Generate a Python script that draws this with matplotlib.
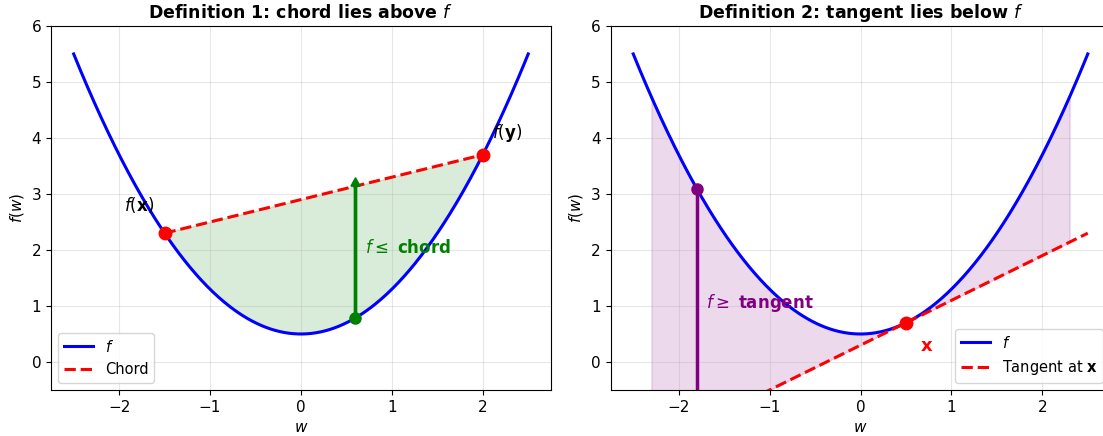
import numpy as np
import matplotlib
matplotlib.use("Agg")
import matplotlib.pyplot as plt

# f(w) = a*w^2 + c
a = 0.8
c = 0.5
w_range = [-2.5, 2.5]

# chord endpoints and probe point (definition 1)
x_pt = -1.5
y_pt = 2.0
probe = 0.6

# tangent point and probe point (definition 2)
x_tan = 0.5
probe2 = -1.8
shade2 = [-2.3, 2.3]


def f(w):
    return a * w**2 + c


def df(w):
    return 2 * a * w


w = np.linspace(w_range[0], w_range[1], 400)

fig = plt.figure(figsize=(11.03, 4.36), dpi=100)
ax1 = fig.add_axes([0.0462, 0.1055, 0.4533, 0.835])
ax2 = fig.add_axes([0.5535, 0.1055, 0.4533, 0.835])

# --- Definition 1 ---
ax1.plot(w, f(w), color='blue', lw=2.2, label=r'$f$')
chord_w = np.array([x_pt, y_pt])
ax1.plot(chord_w, f(chord_w), 'r--', lw=2.2, label='Chord')
ws = np.linspace(x_pt, y_pt, 200)
chord = f(x_pt) + (f(y_pt) - f(x_pt)) / (y_pt - x_pt) * (ws - x_pt)
ax1.fill_between(ws, f(ws), chord, color='green', alpha=0.15)
ax1.plot(chord_w, f(chord_w), 'o', color='red', ms=9, zorder=5)
chord_p = f(x_pt) + (f(y_pt) - f(x_pt)) / (y_pt - x_pt) * (probe - x_pt)
ax1.arrow(probe, f(probe), 0, chord_p - f(probe), color='green', width=0.025,
          head_width=0.1, head_length=0.15, length_includes_head=False, zorder=4)
ax1.plot(probe, f(probe), 'o', color='green', ms=8, zorder=5)
ax1.text(-1.95, 2.7, r'$f(\mathbf{x})$', fontsize=12)
ax1.text(2.1, 4.0, r'$f(\mathbf{y})$', fontsize=12)
ax1.text(0.7, 1.95, r'$f \leq$ chord', fontsize=12, color='green', fontweight='bold')
ax1.set_title(r'Definition 1: chord lies above $f$', fontsize=12.5, fontweight='bold')
ax1.legend(loc='lower left', fontsize=10.5)

# --- Definition 2 ---
ax2.plot(w, f(w), color='blue', lw=2.2, label=r'$f$')
tangent = f(x_tan) + df(x_tan) * (w - x_tan)
ax2.plot(w, tangent, 'r--', lw=2.2, label=r'Tangent at $\mathbf{x}$')
ws2 = np.linspace(shade2[0], shade2[1], 300)
ax2.fill_between(ws2, f(ws2), f(x_tan) + df(x_tan) * (ws2 - x_tan),
                 color='purple', alpha=0.15)
ax2.plot(x_tan, f(x_tan), 'o', color='red', ms=9, zorder=5)
t_probe = f(x_tan) + df(x_tan) * (probe2 - x_tan)
ax2.plot([probe2, probe2], [t_probe, f(probe2)], color='purple', lw=2.5)
ax2.plot(probe2, f(probe2), 'o', color='purple', ms=8, zorder=5)
ax2.text(-1.7, 0.97, r'$f \geq$ tangent', fontsize=12, color='purple', fontweight='bold')
ax2.text(0.65, 0.2, r'$\mathbf{x}$', fontsize=13, color='red')
ax2.set_title(r'Definition 2: tangent lies below $f$', fontsize=12.5, fontweight='bold')
ax2.legend(loc='lower right', fontsize=10.5)

for ax in (ax1, ax2):
    ax.set_xlim(-2.75, 2.75)
    ax.set_ylim(-0.5, 6)
    ax.set_xlabel(r'$w$', fontsize=11)
    ax.set_ylabel(r'$f(w)$', fontsize=11)
    ax.grid(True, alpha=0.3)
    ax.tick_params(labelsize=11)

fig.savefig('out.png', dpi=100)
